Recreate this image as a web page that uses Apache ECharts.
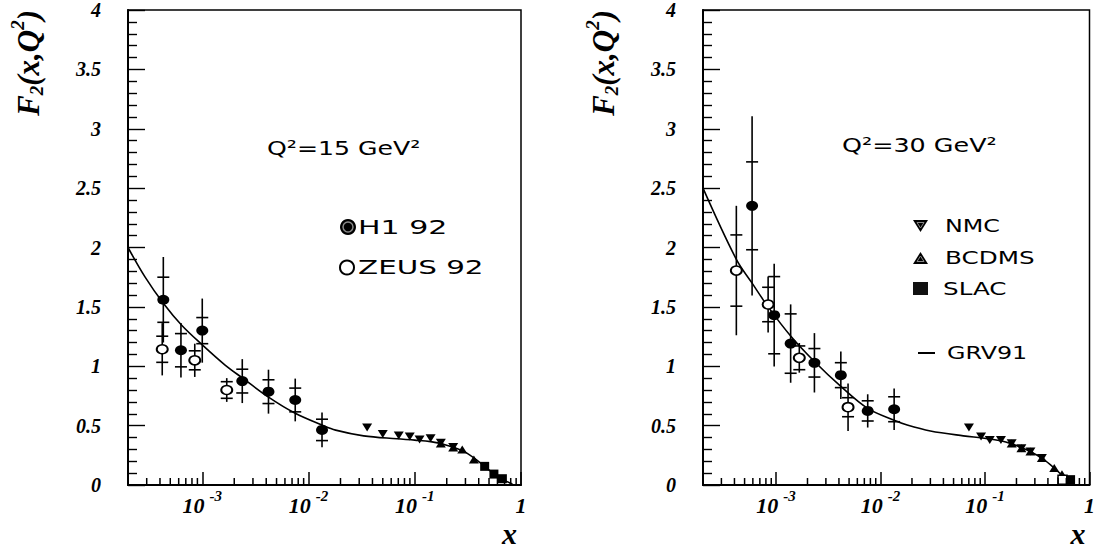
<!DOCTYPE html>
<html>
<head>
<meta charset="utf-8">
<script src="https://cdn.jsdelivr.net/npm/echarts@6/dist/echarts.min.js"></script>
<style>
  html, body { margin: 0; padding: 0; background: #fff; }
  #chart { width: 1098px; height: 548px; }
</style>
</head>
<body>
<div id="chart"></div>
<script>
// ---- axis ranges and tick labels ----
const xMin = 2e-4, xMax = 1;
const yMin = 0, yMax = 4, yStep = 0.5;
const xDecadeExponents = [-3, -2, -1, 0];          // labelled decades: 10^-3 ... 1
const xMinorMultipliers = [2, 3, 4, 5, 6, 7, 8, 9]; // minor ticks inside each decade

// ---- Q² = 15 GeV² ----
// [x, F2, statistical error, total error]
const h1Q15 = [
  [4.3e-4, 1.56, 0.19, 0.36],
  [6.3e-4, 1.135, 0.14, 0.23],
  [1.0e-3, 1.30, 0.11, 0.27],
  [2.38e-3, 0.875, 0.10, 0.185],
  [4.2e-3, 0.786, 0.10, 0.185],
  [7.5e-3, 0.716, 0.10, 0.18],
  [1.34e-2, 0.464, 0.09, 0.147]
];
const zeusQ15 = [
  [4.2e-4, 1.143, 0.11, 0.22],
  [8.5e-4, 1.05, 0.08, 0.14],
  [1.7e-3, 0.80, 0.07, 0.10]
];
// [x, F2]
const nmcQ15 = [[0.0356, 0.484], [0.050, 0.43], [0.0707, 0.417], [0.0897, 0.408],
                [0.111, 0.383], [0.141, 0.394], [0.176, 0.355], [0.23, 0.32]];
const bcdmsQ15 = [[0.176, 0.35], [0.23, 0.315], [0.28, 0.30], [0.36, 0.215]];
const slacQ15 = [[0.455, 0.157], [0.556, 0.092], [0.668, 0.053]];
const grvQ15x = [2e-4, 2.9e-4, 4.3e-4, 6.4e-4, 1e-3, 1.64e-3, 2.4e-3, 4.2e-3, 7.5e-3,
                 1.34e-2, 1.8e-2, 3.3e-2, 6.8e-2, 0.1, 0.141, 0.2, 0.29, 0.417, 0.60, 0.83];
const grvQ15y = [2.00, 1.75, 1.53, 1.345, 1.18, 1.01, 0.90, 0.74, 0.604,
                 0.505, 0.462, 0.414, 0.389, 0.378, 0.365, 0.335, 0.283, 0.185, 0.073, 0.008];

// ---- Q² = 30 GeV² ----
const h1Q30 = [
  [5.9e-4, 2.351, 0.37, 0.755],
  [9.6e-4, 1.43, 0.325, 0.433],
  [1.38e-3, 1.191, 0.25, 0.33],
  [2.33e-3, 1.029, 0.12, 0.25],
  [4.17e-3, 0.925, 0.105, 0.20],
  [7.54e-3, 0.624, 0.085, 0.14],
  [1.35e-2, 0.638, 0.105, 0.175]
];
const zeusQ30 = [
  [4.17e-4, 1.806, 0.30, 0.545],
  [8.4e-4, 1.52, 0.145, 0.235],
  [1.67e-3, 1.071, 0.10, 0.125],
  [4.89e-3, 0.655, 0.08, 0.20]
];
const nmcQ30 = [[0.0702, 0.484], [0.0917, 0.408], [0.111, 0.38], [0.142, 0.38],
                [0.18, 0.352], [0.223, 0.31], [0.272, 0.283], [0.35, 0.227]];
const bcdmsQ30 = [[0.18, 0.35], [0.223, 0.31], [0.272, 0.283], [0.35, 0.227],
                  [0.46, 0.143], [0.545, 0.09]];
const slacQ30 = [[0.552, 0.045], [0.659, 0.045]];
const grvQ30x = [2e-4, 4.17e-4, 5.9e-4, 8.4e-4, 1.38e-3, 2.33e-3, 4.17e-3, 7.54e-3,
                 1.35e-2, 1.8e-2, 3.0e-2, 6.2e-2, 0.102, 0.158, 0.262, 0.377, 0.541, 0.672];
const grvQ30y = [2.50, 1.90, 1.70, 1.50, 1.255, 1.04, 0.83, 0.645,
                 0.545, 0.505, 0.455, 0.414, 0.392, 0.362, 0.288, 0.205, 0.086, 0.017];

// ---- styling ----
const INK = '#000';
const serifBI = { fontFamily: 'Liberation Serif', fontWeight: 'bold', fontStyle: 'italic', color: INK };
const sans = 'DejaVu Sans';

const chart = echarts.init(document.getElementById('chart'), null, { renderer: 'svg' });

function zip(xs, ys) { return xs.map((x, i) => [x, ys[i]]); }

// vertical line to the total error, short bars at the statistical error
function errorBarItem(params, api) {
  const x = api.value(0), y = api.value(1), st = api.value(2), tot = api.value(3);
  const hi = api.coord([x, y + tot]), lo = api.coord([x, y - tot]);
  const sHi = api.coord([x, y + st]), sLo = api.coord([x, y - st]);
  const w = 6;
  const style = { stroke: INK, lineWidth: 1.6 };
  return {
    type: 'group',
    children: [
      { type: 'line', shape: { x1: hi[0], y1: hi[1], x2: lo[0], y2: lo[1] }, style },
      { type: 'line', shape: { x1: sHi[0] - w, y1: sHi[1], x2: sHi[0] + w, y2: sHi[1] }, style },
      { type: 'line', shape: { x1: sLo[0] - w, y1: sLo[1], x2: sLo[0] + w, y2: sLo[1] }, style }
    ]
  };
}

// short log ticks at 2..9 × 10^n, drawn upward from the x axis
const minorTickValues = [];
[-4, -3, -2, -1].forEach(e => {
  xMinorMultipliers.forEach(k => {
    const v = k * Math.pow(10, e);
    if (v > xMin * 1.0001 && v < xMax) minorTickValues.push([v, yMin]);
  });
});
function minorTickItem(params, api) {
  const p = api.coord([api.value(0), api.value(1)]);
  return { type: 'line', shape: { x1: p[0], y1: p[1], x2: p[0], y2: p[1] - 7 },
           style: { stroke: INK, lineWidth: 1.5 } };
}

function decadeLabel(v) {
  const e = Math.round(Math.log10(v));
  if (Math.abs(Math.log10(v) - e) > 1e-6 || xDecadeExponents.indexOf(e) < 0) return '';
  return e === 0 ? '{b|1}' : '{b|10}{e|' + e + '}';
}

function panel(i, h1, zeus, nmc, bcdms, slac, gx, gy) {
  const ax = { xAxisIndex: i, yAxisIndex: i };
  return [
    Object.assign({ type: 'line', name: 'GRV91', data: zip(gx, gy), showSymbol: false,
      smooth: 0.35, lineStyle: { color: INK, width: 1.6 },
      itemStyle: { color: INK }, z: 2, silent: true }, ax),
    Object.assign({ type: 'custom', name: 'H1 92', data: h1, renderItem: errorBarItem,
      encode: { x: 0, y: 1 }, z: 3, silent: true }, ax),
    Object.assign({ type: 'custom', name: 'ZEUS 92', data: zeus, renderItem: errorBarItem,
      encode: { x: 0, y: 1 }, z: 3, silent: true }, ax),
    Object.assign({ type: 'scatter', name: 'H1 92', data: h1.map(d => [d[0], d[1]]),
      symbol: 'circle', symbolSize: [12, 10], itemStyle: { color: INK, opacity: 1 }, z: 5 }, ax),
    Object.assign({ type: 'scatter', name: 'ZEUS 92', data: zeus.map(d => [d[0], d[1]]),
      symbol: 'circle', symbolSize: [11, 9],
      itemStyle: { color: '#fff', borderColor: INK, borderWidth: 1.8, opacity: 1 }, z: 5 }, ax),
    Object.assign({ type: 'scatter', name: 'NMC', data: nmc, symbol: 'triangle', symbolRotate: 180,
      symbolSize: [10, 8], itemStyle: { color: INK, opacity: 1 }, z: 4 }, ax),
    Object.assign({ type: 'scatter', name: 'BCDMS', data: bcdms, symbol: 'triangle',
      symbolSize: [10, 8], itemStyle: { color: INK, opacity: 1 }, z: 4 }, ax),
    Object.assign({ type: 'scatter', name: 'SLAC', data: slac, symbol: 'rect',
      symbolSize: [9, 9], itemStyle: { color: INK, opacity: 1 }, z: 4 }, ax),
    Object.assign({ type: 'custom', name: 'x minor ticks', data: minorTickValues,
      renderItem: minorTickItem, encode: { x: 0, y: 1 }, z: 6, silent: true }, ax)
  ];
}

function xAxisFor(i) {
  return {
    type: 'log', logBase: 10, gridIndex: i, min: xMin, max: xMax,
    name: 'x', nameLocation: 'end', nameGap: -19,
    nameTextStyle: Object.assign({}, serifBI, { fontSize: 30,
      verticalAlign: 'top', padding: [33, 0, 0, 0] }),
    axisLine: { show: true, onZero: false, lineStyle: { color: INK, width: 2 } },
    axisTick: { show: true, inside: true, length: 13, lineStyle: { color: INK, width: 1.5 } },
    splitLine: { show: false }, minorTick: { show: false },
    axisLabel: {
      margin: 3, showMinLabel: false, showMaxLabel: true, formatter: decadeLabel,
      rich: {
        b: Object.assign({}, serifBI, { fontSize: 22, lineHeight: 28, verticalAlign: 'bottom' }),
        e: Object.assign({}, serifBI, { fontSize: 15, lineHeight: 16, verticalAlign: 'top',
          padding: [0, 0, 0, 5] })
      }
    }
  };
}

function yAxisFor(i) {
  return {
    type: 'value', gridIndex: i, min: yMin, max: yMax, interval: yStep,
    name: '{f|F}{sub|2}{f|(x,Q}{sup|2}{f|)}',
    nameLocation: 'end', nameRotate: 90, nameGap: 0,
    nameTextStyle: {
      align: 'right', verticalAlign: 'bottom', padding: [0, 0, 80, 0],
      rich: {
        f: Object.assign({}, serifBI, { fontSize: 31, lineHeight: 40, verticalAlign: 'middle' }),
        sub: Object.assign({}, serifBI, { fontSize: 19, lineHeight: 40, verticalAlign: 'bottom',
          padding: [0, 0, 2, 0] }),
        sup: Object.assign({}, serifBI, { fontSize: 19, lineHeight: 19, verticalAlign: 'top' })
      }
    },
    axisLine: { show: true, onZero: false, lineStyle: { color: INK, width: 2 } },
    axisTick: { show: true, inside: true, length: 17, lineStyle: { color: INK, width: 1.4 } },
    minorTick: { show: true, splitNumber: 5, length: 9, lineStyle: { color: INK, width: 1.4 } },
    splitLine: { show: false }, minorSplitLine: { show: false },
    axisLabel: Object.assign({}, serifBI, { fontSize: 20, margin: 27 })
  };
}

// annotation text, stretched horizontally like the original plotting font
function label(x, y, text, size, sx) {
  return { type: 'text', x, y, scaleX: sx, z: 10,
    style: { text, fontFamily: sans, fontSize: size, fill: INK,
             align: 'left', verticalAlign: 'middle' } };
}

const graphic = [
  // Q² = 15 panel
  label(267, 147.5, 'Q²=15 GeV²', 20, 1.26),
  { type: 'circle', shape: { cx: 348, cy: 227, r: 8 }, style: { fill: INK }, z: 10 },
  { type: 'circle', shape: { cx: 348, cy: 227, r: 5 }, style: { fill: INK, stroke: '#888', lineWidth: 1.5 }, z: 11 },
  label(358, 227, 'H1 92', 20, 1.5),
  { type: 'circle', shape: { cx: 347, cy: 267.5, r: 7 }, style: { fill: '#fff', stroke: INK, lineWidth: 2 }, z: 10 },
  label(358, 267.5, 'ZEUS 92', 20, 1.47),
  // Q² = 30 panel
  label(842, 145.5, 'Q²=30 GeV²', 20, 1.27),
  { type: 'polygon', shape: { points: [[913, 220], [928, 220], [920.5, 232]] }, style: { fill: INK }, z: 10 },
  { type: 'polygon', shape: { points: [[917, 222.5], [924, 222.5], [920.5, 228]] }, style: { fill: 'none', stroke: '#888', lineWidth: 1 }, z: 11 },
  label(945, 226, 'NMC', 17, 1.4),
  { type: 'polygon', shape: { points: [[913, 264], [928, 264], [920.5, 252]] }, style: { fill: INK }, z: 10 },
  { type: 'polygon', shape: { points: [[917, 261.5], [924, 261.5], [920.5, 256]] }, style: { fill: 'none', stroke: '#888', lineWidth: 1 }, z: 11 },
  label(945, 258, 'BCDMS', 17, 1.45),
  { type: 'rect', shape: { x: 913, y: 282, width: 15, height: 13 }, style: { fill: '#111' }, z: 10 },
  label(943, 288.7, 'SLAC', 17, 1.45),
  { type: 'line', shape: { x1: 918, y1: 353, x2: 935, y2: 353 }, style: { stroke: INK, lineWidth: 2 }, z: 10 },
  label(947, 353, 'GRV91', 17, 1.4)
];

const option = {
  animation: false,
  backgroundColor: '#fff',
  grid: [
    { left: 128, right: 577, top: 10, bottom: 61, show: true, borderColor: INK, borderWidth: 1.5 },
    { left: 703, right: 3, top: 10, bottom: 61, show: true, borderColor: INK, borderWidth: 1.5 }
  ],
  xAxis: [xAxisFor(0), xAxisFor(1)],
  yAxis: [yAxisFor(0), yAxisFor(1)],
  series: [].concat(
    panel(0, h1Q15, zeusQ15, nmcQ15, bcdmsQ15, slacQ15, grvQ15x, grvQ15y),
    panel(1, h1Q30, zeusQ30, nmcQ30, bcdmsQ30, slacQ30, grvQ30x, grvQ30y)
  ),
  graphic
};

// the first SLAC point at Q² = 30 is drawn hollow
option.series.forEach(s => {
  if (s.name === 'SLAC' && s.xAxisIndex === 1) {
    s.data = s.data.map((d, i) => i === 0
      ? { value: d, itemStyle: { color: '#fff', borderColor: INK, borderWidth: 1.5 } } : d);
  }
});

chart.setOption(option);
</script>
</body>
</html>
